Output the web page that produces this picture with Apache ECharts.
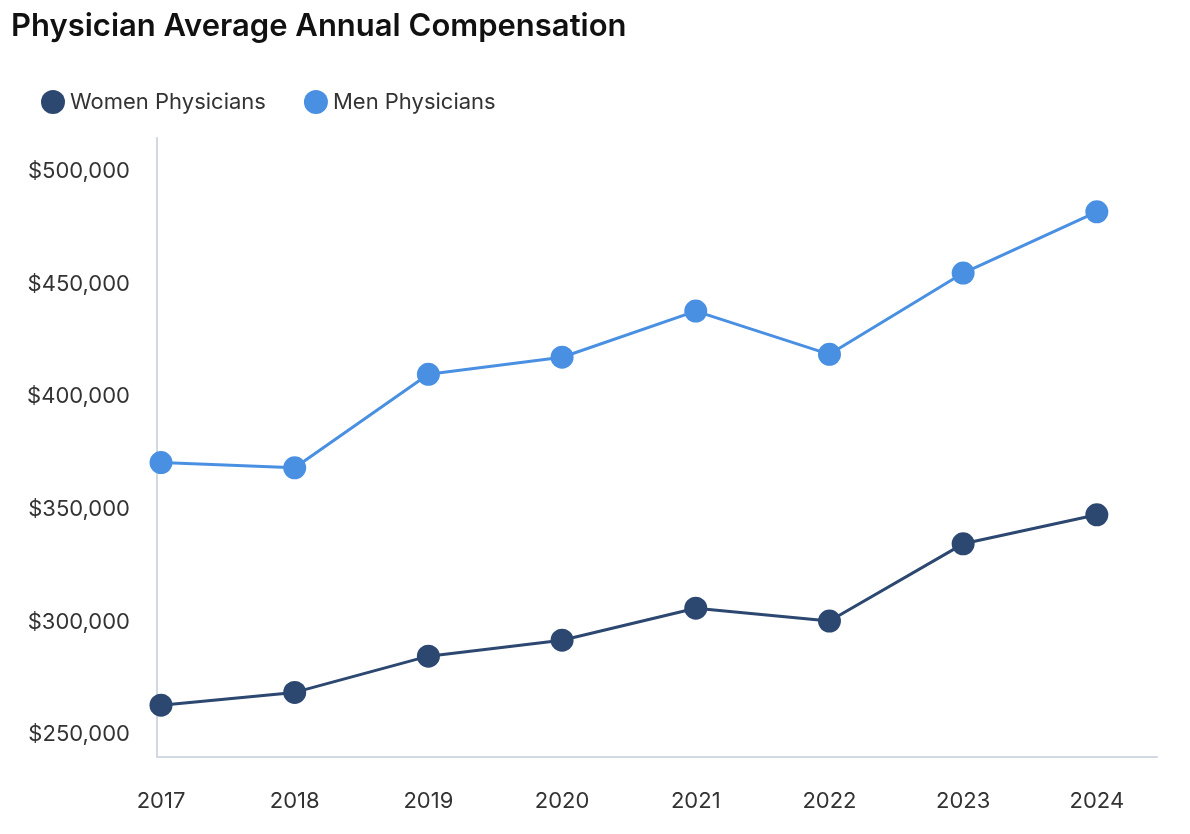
<!DOCTYPE html>
<html>
<head>
<meta charset="utf-8">
<script src="https://cdn.jsdelivr.net/npm/echarts@6/dist/echarts.min.js"></script>
<style>
html,body{margin:0;padding:0;background:#fff;}
#chart{width:1190px;height:834px;}
</style>
</head>
<body>
<div id="chart"></div>
<script>
const years = [2017, 2018, 2019, 2020, 2021, 2022, 2023, 2024];
const womenValues = [263000, 268700, 284800, 291900, 306100, 300400, 334700, 347600];
const menValues = [370800, 368500, 410000, 417600, 438100, 418900, 455000, 482200];
const yTicks = [250000, 300000, 350000, 400000, 450000, 500000];
const seriesNames = ['Women Physicians', 'Men Physicians'];

const FONT = 'Inter, "Noto Sans", sans-serif';
const chart = echarts.init(document.getElementById('chart'));
const pairs = vals => years.map((y, i) => [y, vals[i]]);
const fmt = v => '$' + v.toLocaleString('en-US');

chart.setOption({
  animation: false,
  backgroundColor: '#ffffff',
  title: {
    text: 'Physician Average Annual Compensation',
    left: 6, top: 6,
    textStyle: { fontFamily: FONT, fontSize: 31, fontWeight: 600, color: '#111' }
  },
  legend: {
    left: 36, top: 85,
    icon: 'circle', itemWidth: 24, itemHeight: 24, itemGap: 38,
    textStyle: { fontFamily: FONT, fontSize: 22, color: '#333' },
    data: seriesNames
  },
  grid: { left: 157, right: 33, top: 138, bottom: 77, containLabel: false },
  xAxis: {
    type: 'value', min: 2016.97, max: 2024.45,
    axisLine: { show: true, lineStyle: { color: '#d0d8e2', width: 2 } },
    axisTick: { show: false },
    splitLine: { show: false },
    axisLabel: {
      customValues: years, margin: 33,
      fontFamily: FONT, fontSize: 22, color: '#333',
      formatter: v => String(Math.round(v))
    }
  },
  yAxis: {
    type: 'value', min: 240000, max: 515000,
    axisLine: { show: true, lineStyle: { color: '#d0d8e2', width: 2 } },
    axisTick: { show: false },
    splitLine: { show: false },
    axisLabel: {
      customValues: yTicks, margin: 27,
      fontFamily: FONT, fontSize: 22, color: '#333',
      formatter: fmt
    }
  },
  series: [
    {
      name: seriesNames[0], type: 'line', data: pairs(womenValues),
      symbol: 'circle', symbolSize: 23,
      lineStyle: { width: 3, color: '#2c4770' },
      itemStyle: { color: '#2c4770' }
    },
    {
      name: seriesNames[1], type: 'line', data: pairs(menValues),
      symbol: 'circle', symbolSize: 23,
      lineStyle: { width: 3, color: '#4a90e2' },
      itemStyle: { color: '#4a90e2' }
    }
  ]
});
</script>
</body>
</html>
